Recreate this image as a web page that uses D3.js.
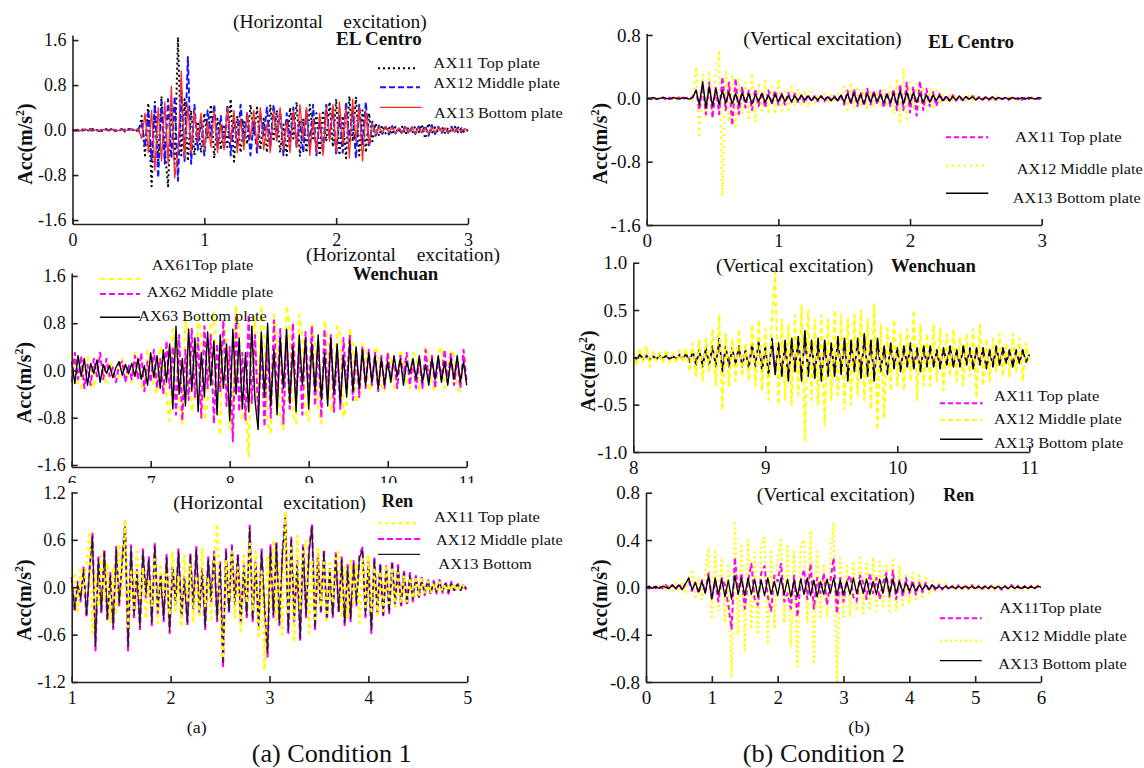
<!DOCTYPE html>
<html><head><meta charset="utf-8">
<script src="https://cdn.jsdelivr.net/npm/d3@7"></script>
<style>
body{margin:0;background:#fff;}
svg{display:block;}
</style></head>
<body><svg id="fig" width="1144" height="768"></svg>
<script>
// ===== Condition 1, horizontal excitation: EL Centro (acceleration, m/s^2) =====
const p1T0 = 0, p1Dt = 0.025;
const p1XDomain = [0, 3];
const p1XTicks = [0, 1, 2, 3];
const p1YTicks = [-1.6, -0.8, 0, 0.8, 1.6];
const p1Title = ['(Horizontal', 'excitation)', 'EL Centro'];
const p1Names = ['AX11 Top plate', 'AX12 Middle plate', 'AX13 Bottom plate'];
const p1Top = [
0.00,0.01,-0.01,0.01,0.00,-0.01,0.02,-0.01,0.01,-0.02,
0.01,0.00,0.02,-0.01,0.01,-0.02,0.01,0.02,-0.02,0.03,
-0.05,0.25,-0.45,0.48,-1.00,0.50,-0.55,0.60,-0.35,-1.00,
0.45,-0.60,1.65,-0.45,0.55,-0.55,0.35,-0.45,0.15,-0.40,
0.30,-0.15,0.45,-0.50,0.20,-0.35,0.10,-0.30,0.55,-0.56,
0.25,-0.40,0.15,-0.25,0.45,-0.10,0.40,-0.35,0.20,-0.40,
0.45,-0.20,0.35,-0.40,0.10,-0.45,0.40,-0.15,0.50,-0.47,
0.20,-0.40,0.45,-0.15,0.30,-0.45,0.35,-0.20,0.50,-0.30,
0.55,-0.45,0.25,-0.50,0.60,-0.20,0.59,-0.45,0.35,-0.40,
0.30,-0.20,0.12,-0.10,0.08,-0.06,0.07,-0.08,0.06,-0.05,
0.06,-0.08,0.05,-0.06,0.07,-0.05,0.10,-0.15,0.12,-0.06,
0.05,-0.04,0.06,-0.05,0.04,-0.05,0.06,-0.04,0.03,-0.05,
0.02];
const p1Mid = [
0.00,-0.01,0.02,-0.01,0.01,0.03,-0.01,0.02,-0.02,0.01,
0.02,-0.01,0.03,-0.02,0.01,0.02,-0.03,0.02,0.01,-0.02,
0.02,0.12,-0.30,0.35,-0.55,0.45,-0.85,0.50,-0.60,0.55,
-0.50,0.60,-0.90,0.70,-0.55,1.30,-0.60,0.45,-0.35,0.20,
-0.45,0.35,-0.10,0.45,-0.30,0.25,-0.35,0.45,-0.45,0.20,
-0.30,0.45,-0.20,0.30,-0.45,0.15,-0.40,0.30,-0.10,0.40,
-0.30,0.45,-0.15,0.35,-0.45,0.30,-0.20,0.40,-0.30,0.15,
-0.40,0.35,-0.30,0.45,-0.45,0.20,-0.40,0.45,-0.15,0.40,
-0.45,0.25,-0.40,0.50,-0.20,0.40,-0.50,0.45,-0.25,0.50,
-0.30,0.15,-0.10,0.08,-0.07,0.06,-0.08,0.07,-0.06,0.05,
-0.07,0.08,-0.06,0.05,-0.07,0.06,-0.05,0.08,-0.10,0.09,
-0.07,0.06,-0.05,0.04,-0.05,0.06,-0.04,0.05,-0.04,0.03,
-0.02];
const p1Bot = [
0.00,0.01,-0.01,0.00,0.01,-0.01,0.01,0.00,-0.01,0.01,
0.00,-0.01,0.01,0.00,-0.01,0.01,-0.01,0.00,0.01,-0.01,
0.01,-0.15,0.30,-0.40,0.35,-0.72,0.40,-0.55,0.50,-0.60,
0.78,-0.85,-0.40,1.05,-0.50,0.45,-0.40,0.35,-0.20,0.30,
-0.35,0.15,-0.30,0.35,-0.40,0.10,-0.35,0.40,-0.20,0.35,
-0.40,0.20,-0.35,0.30,-0.15,0.35,-0.30,0.40,-0.35,0.10,
-0.40,0.35,-0.20,0.40,-0.35,0.15,-0.40,0.35,-0.30,0.45,
-0.15,0.40,-0.45,0.20,-0.40,0.30,-0.45,0.40,-0.20,0.45,
-0.40,0.50,-0.25,0.40,-0.50,0.55,-0.20,0.40,-0.55,0.35,
-0.25,0.12,-0.08,0.06,-0.05,0.06,-0.04,0.05,-0.06,0.04,
-0.05,0.06,-0.04,0.05,-0.06,0.04,-0.05,0.04,-0.06,0.05,
-0.04,0.05,-0.03,0.04,-0.05,0.03,-0.04,0.03,-0.02,0.03,
-0.02];

// ===== Condition 1, horizontal excitation: Wenchuan =====
const p2T0 = 6, p2Dt = 0.04;
const p2XDomain = [6, 11];
const p2XTicks = [6, 7, 8, 9, 10, 11];
const p2YTicks = [-1.6, -0.8, 0, 0.8, 1.6];
const p2Title = ['(Horizontal', 'excitation)', 'Wenchuan'];
const p2Names = ['AX61Top plate', 'AX62 Middle plate', 'AX63 Bottom plate'];
const p2Top = [
0.30,0.10,-0.25,-0.30,0.20,0.25,-0.15,-0.30,0.15,0.25,
-0.10,-0.20,0.15,0.05,-0.15,-0.10,0.20,0.10,-0.15,-0.20,
0.30,0.15,-0.25,-0.35,0.35,0.20,-0.30,-0.40,0.40,0.25,
-0.50,-0.85,0.70,0.45,-0.60,-0.90,0.85,0.50,-0.70,-0.40,
0.90,0.60,-0.85,-0.55,0.75,1.00,-0.60,-1.10,0.80,0.45,
-1.00,-0.60,1.10,0.70,-0.85,-0.60,-1.45,0.55,0.90,-0.70,
1.10,0.60,-0.90,-1.05,0.95,0.50,-0.80,-1.00,1.10,0.75,
-0.75,-0.90,0.95,0.55,-0.70,-0.85,0.80,0.45,-0.65,-0.90,
0.85,0.50,-0.70,-0.55,0.75,0.60,-0.80,-0.60,0.70,0.40,
-0.55,-0.40,0.45,0.30,-0.35,-0.25,0.40,0.30,-0.30,-0.35,
0.30,0.20,-0.30,-0.25,0.35,0.15,-0.20,-0.30,0.30,0.25,
-0.35,-0.20,0.40,0.25,-0.25,-0.35,0.30,0.40,-0.30,-0.20,
0.35,0.25,-0.30,-0.35,0.25,0.15];
const p2Mid = [
-0.20,0.30,-0.15,0.25,-0.30,0.10,-0.25,0.20,-0.10,0.30,
-0.15,0.20,-0.10,0.05,-0.20,0.10,0.15,-0.20,0.10,-0.15,
0.25,-0.15,0.30,-0.35,0.15,-0.20,0.35,-0.30,0.20,-0.40,
0.50,-0.30,0.40,-0.75,0.60,-0.85,0.35,-0.50,0.70,-0.45,
0.55,-0.80,0.75,-0.30,0.60,-0.90,0.45,-0.35,0.85,-0.60,
0.40,-1.20,0.90,-0.70,0.30,-0.85,0.95,-0.55,0.60,-0.75,
0.50,-0.95,0.40,-0.80,0.85,-0.45,0.70,-0.90,0.55,-0.65,
0.80,-0.50,0.35,-0.75,0.65,-0.40,0.75,-0.60,0.45,-0.80,
0.70,-0.40,0.60,-0.70,0.35,-0.65,0.55,-0.30,0.60,-0.50,
0.35,-0.45,0.40,-0.30,0.35,-0.25,0.30,-0.35,0.25,-0.30,
0.30,-0.15,0.20,-0.30,0.25,-0.10,0.30,-0.25,0.15,-0.30,
0.20,-0.30,0.35,-0.15,0.25,-0.30,0.20,-0.15,0.35,-0.20,
0.30,-0.25,0.15,-0.30,0.35,-0.20];
const p2Bot = [
0.15,-0.22,0.25,-0.10,0.20,-0.25,0.12,-0.05,0.18,-0.20,
0.10,-0.05,0.08,-0.12,0.05,0.15,-0.08,0.10,-0.05,0.12,
-0.10,0.20,-0.15,0.08,-0.25,0.30,-0.12,0.25,-0.30,0.35,
-0.20,0.45,-0.65,0.75,-0.40,0.20,-0.60,0.70,-0.35,0.55,
-0.70,0.30,-0.45,0.65,-0.25,0.50,-0.75,0.60,-0.30,0.45,
-0.85,0.70,-0.40,0.55,-0.65,0.30,-0.70,0.75,-0.50,-1.00,
0.65,-0.45,0.80,-0.60,0.35,-0.75,0.55,-0.30,0.70,-0.55,
0.40,-0.70,0.60,-0.25,0.55,-0.65,0.45,-0.35,0.60,-0.50,
0.30,-0.60,0.55,-0.40,0.45,-0.55,0.25,-0.45,0.50,-0.35,
0.40,-0.30,0.35,-0.25,0.30,-0.20,0.25,-0.30,0.20,-0.25,
0.15,-0.20,0.25,-0.10,0.20,-0.25,0.15,-0.05,0.20,-0.15,
0.25,-0.20,0.10,-0.25,0.20,-0.15,0.25,-0.20,0.15,-0.25,
0.20,-0.15,0.25,-0.20,0.15,-0.25];

// ===== Condition 1, horizontal excitation: Ren =====
const p3T0 = 1, p3Dt = 0.03;
const p3XDomain = [1, 5];
const p3XTicks = [1, 2, 3, 4, 5];
const p3YTicks = [-1.2, -0.6, 0, 0.6, 1.2];
const p3Title = ['(Horizontal', 'excitation)', 'Ren'];
const p3Names = ['AX11 Top plate', 'AX12 Middle plate', 'AX13 Bottom'];
const p3Top = [
-0.05,0.15,-0.30,0.25,-0.10,0.30,0.70,-0.58,0.15,-0.25,
0.40,-0.15,0.30,-0.45,0.25,-0.35,0.55,-0.10,0.85,-0.50,
0.20,-0.30,0.45,-0.15,0.25,-0.40,0.10,-0.25,0.35,-0.45,
0.30,-0.10,0.20,-0.35,0.45,-0.30,0.15,-0.50,0.40,-0.20,
0.30,-0.45,0.15,-0.35,0.50,-0.25,0.10,-0.40,0.30,0.80,
-0.30,-0.90,0.35,-0.15,0.45,-0.40,0.25,-0.55,0.40,-0.20,
0.55,-0.30,0.45,-0.65,0.20,-1.05,0.40,-0.25,0.60,-0.45,
0.30,-0.60,0.96,-0.35,0.50,-0.70,0.65,-0.30,0.45,0.60,
-0.58,0.35,-0.40,0.50,-0.25,0.35,-0.45,0.30,-0.20,0.40,
0.45,-0.35,0.25,-0.40,0.35,-0.20,0.30,-0.45,0.35,-0.25,
0.40,-0.30,0.25,-0.35,0.20,-0.30,0.28,-0.20,0.22,-0.25,
0.18,-0.20,0.15,-0.18,0.12,-0.14,0.10,-0.12,0.10,-0.08,
0.07,-0.08,0.06,-0.05,0.06,-0.05,0.04,-0.05,0.04,-0.04,0.03,-0.03,0.02,-0.02];
const p3Mid = [
0.13,-0.31,0.07,-0.18,0.25,-0.38,0.23,0.68,-0.80,0.38,
-0.33,0.48,-0.43,0.18,-0.53,0.51,-0.23,0.33,0.83,-0.80,
0.53,-0.38,0.23,-0.53,0.48,-0.13,0.38,-0.48,0.55,-0.33,
0.18,-0.43,0.41,-0.58,0.28,-0.23,0.48,-0.38,0.13,-0.48,
0.43,-0.28,0.51,-0.33,0.23,-0.53,0.38,-0.18,0.45,-0.43,
0.33,-1.00,0.48,-0.33,0.53,-0.23,0.43,-0.48,0.28,-0.38,
0.78,-0.43,0.33,-0.53,0.48,-0.28,-0.88,0.53,-0.38,0.58,
-0.48,0.43,0.91,-0.58,0.63,-0.43,0.33,-0.68,0.53,-0.38,
0.48,0.80,-0.53,0.43,-0.33,0.48,-0.43,0.23,-0.38,0.43,
-0.33,0.38,-0.48,0.28,-0.43,0.33,-0.23,0.41,0.50,-0.38,
0.33,-0.58,0.38,-0.33,0.31,-0.38,0.28,-0.33,0.33,-0.23,
0.28,-0.25,0.21,-0.23,0.18,-0.18,0.14,-0.14,0.12,-0.10,
0.10,-0.09,0.08,-0.08,0.09,-0.07,0.07,-0.08,0.07,-0.06,0.06,-0.05,0.04,-0.03];
const p3Bot = [
0.10,-0.28,0.05,-0.15,0.22,-0.35,0.20,0.65,-0.75,0.35,
-0.30,0.45,-0.40,0.15,-0.50,0.48,-0.20,0.30,0.80,-0.75,
0.50,-0.35,0.20,-0.50,0.45,-0.10,0.35,-0.45,0.52,-0.30,
0.15,-0.40,0.38,-0.55,0.25,-0.20,0.45,-0.35,0.10,-0.45,
0.40,-0.25,0.48,-0.30,0.20,-0.50,0.35,-0.15,0.42,-0.40,
0.30,-0.95,0.45,-0.30,0.50,-0.20,0.40,-0.45,0.25,-0.35,
0.75,-0.40,0.30,-0.50,0.45,-0.25,-0.83,0.50,-0.35,0.55,
-0.45,0.40,0.88,-0.55,0.60,-0.40,0.30,-0.65,0.50,-0.35,
0.45,0.77,-0.50,0.40,-0.30,0.45,-0.40,0.20,-0.35,0.40,
-0.30,0.35,-0.45,0.25,-0.40,0.30,-0.20,0.38,0.47,-0.35,
0.30,-0.54,0.35,-0.30,0.28,-0.35,0.25,-0.30,0.30,-0.20,
0.25,-0.22,0.18,-0.20,0.15,-0.15,0.12,-0.12,0.10,-0.08,
0.08,-0.07,0.06,-0.06,0.07,-0.05,0.05,-0.06,0.05,-0.04,0.04,-0.04,0.03,-0.02];

// ===== Condition 2, vertical excitation: EL Centro =====
const p4T0 = 0, p4Dt = 0.025;
const p4XDomain = [0, 3];
const p4XTicks = [0, 1, 2, 3];
const p4YTicks = [-1.6, -0.8, 0, 0.8];
const p4Title = ['(Vertical excitation)', 'EL Centro'];
const p4Names = ['AX11 Top plate', 'AX12 Middle plate', 'AX13 Bottom plate'];
const p4Top = [
0.00,-0.01,0.01,-0.01,0.00,0.01,-0.02,0.01,-0.01,0.00,0.01,-0.01,0.01,-0.01,0.02,
0.10,-0.15,0.15,-0.20,0.20,-0.25,0.15,-0.20,0.27,-0.15,0.20,-0.34,0.25,-0.20,0.15,
-0.12,0.10,-0.15,0.12,-0.10,0.08,-0.12,0.10,-0.08,0.10,-0.08,0.06,-0.08,0.07,-0.05,
0.06,-0.05,0.04,-0.06,0.05,-0.04,0.03,-0.04,0.03,-0.04,0.03,-0.02,0.03,-0.04,0.05,
-0.08,0.10,-0.08,0.12,-0.10,0.08,-0.10,0.12,-0.08,0.10,-0.08,0.10,-0.12,0.08,-0.10,
0.12,-0.15,0.18,-0.15,0.20,-0.18,0.15,-0.22,0.22,-0.15,0.12,-0.10,0.08,-0.10,0.06,
-0.05,0.04,-0.03,0.04,-0.03,0.02,-0.03,0.02,-0.02,0.03,-0.02,0.02,-0.01,0.02,-0.02,
0.01,-0.02,0.02,-0.01,0.01,-0.02,0.01,-0.01,0.01,-0.02,0.01,-0.01,0.01,0.00,-0.01,0.00];
const p4Mid = [
0.00,0.01,-0.01,0.02,-0.02,0.01,0.00,-0.01,0.02,-0.03,0.01,0.02,-0.01,0.01,-0.02,
0.40,-0.50,0.30,-0.25,0.35,-0.20,0.30,0.61,-1.24,0.35,-0.30,0.30,-0.35,0.25,-0.20,
0.20,-0.25,0.32,-0.30,0.20,-0.15,0.25,-0.20,0.15,-0.20,0.25,-0.15,0.12,-0.18,0.15,
-0.10,0.12,-0.08,0.10,-0.12,0.08,-0.06,0.05,-0.04,0.05,-0.06,0.04,-0.05,0.06,-0.05,
0.15,-0.18,0.20,-0.12,0.15,-0.10,0.12,-0.15,0.10,-0.12,0.08,-0.10,0.12,-0.10,0.15,
-0.20,0.25,-0.33,0.38,-0.25,0.20,-0.15,0.18,-0.12,0.15,-0.10,0.12,-0.15,0.10,-0.08,
0.06,-0.05,0.04,-0.03,0.04,-0.03,0.02,-0.03,0.04,-0.02,0.03,-0.02,0.02,-0.03,0.02,
-0.02,0.03,-0.02,0.02,-0.01,0.02,-0.02,0.01,-0.02,0.02,-0.01,0.01,-0.01,0.02,-0.01,0.00];
const p4Bot = [
0.00,0.00,0.01,-0.01,0.00,0.01,0.00,-0.01,0.01,0.00,-0.01,0.01,0.00,-0.01,0.01,
0.10,-0.08,0.21,-0.12,0.15,-0.10,0.12,-0.08,0.10,-0.06,0.08,-0.07,0.06,-0.08,0.07,
-0.05,0.06,-0.07,0.05,-0.04,0.06,-0.05,0.04,-0.06,0.05,-0.04,0.05,-0.04,0.03,-0.04,
0.03,-0.03,0.04,-0.02,0.03,-0.03,0.02,-0.02,0.03,-0.02,0.02,-0.03,0.02,-0.03,0.04,
-0.05,0.06,-0.05,0.07,-0.06,0.05,-0.07,0.06,-0.05,0.06,-0.04,0.05,-0.06,0.05,-0.06,
0.07,-0.08,0.10,-0.07,0.08,-0.06,0.07,-0.05,0.06,-0.05,0.04,-0.05,0.04,-0.03,0.04,
-0.03,0.02,-0.03,0.02,-0.02,0.03,-0.02,0.02,-0.01,0.02,-0.02,0.01,-0.02,0.01,-0.01,
0.02,-0.01,0.01,-0.01,0.01,-0.01,0.01,0.00,-0.01,0.01,-0.01,0.01,0.00,-0.01,0.01,0.00];

// ===== Condition 2, vertical excitation: Wenchuan =====
const p5T0 = 8, p5Dt = 0.025;
const p5XDomain = [8, 11];
const p5XTicks = [8, 9, 10, 11];
const p5YTicks = [-1.0, -0.5, 0, 0.5, 1.0];
const p5Title = ['(Vertical excitation)', 'Wenchuan'];
const p5Names = ['AX11 Top plate', 'AX12 Middle plate', 'AX13 Bottom plate'];
const p5Top = [
0.01,-0.01,0.02,-0.01,0.01,-0.02,0.01,-0.01,0.01,-0.01,0.01,-0.01,0.01,-0.01,0.02,
-0.01,0.03,-0.04,0.05,-0.06,0.06,-0.08,0.08,-0.06,0.10,-0.08,0.16,-0.12,0.10,-0.08,
0.08,-0.06,0.10,-0.08,0.06,-0.10,0.12,-0.08,0.15,-0.12,0.10,-0.16,0.16,-0.15,0.12,
-0.16,0.15,-0.20,0.16,-0.12,0.18,-0.20,0.22,-0.16,0.15,-0.18,0.16,-0.20,0.15,-0.16,
0.12,-0.16,0.18,-0.15,0.16,-0.20,0.15,-0.12,0.16,-0.18,0.20,-0.16,0.15,-0.20,0.16,
-0.12,0.10,-0.15,0.12,-0.10,0.08,-0.12,0.10,-0.08,0.12,-0.10,0.08,-0.12,0.10,-0.08,
0.10,-0.08,0.06,-0.10,0.08,-0.06,0.10,-0.08,0.06,-0.08,0.10,-0.06,0.08,-0.10,0.08,
-0.06,0.08,-0.10,0.06,-0.08,0.10,-0.06,0.08,-0.05,0.06,-0.08,0.06,-0.05,0.06,-0.04,0.02];
const p5Mid = [
0.05,-0.08,0.10,-0.05,0.12,-0.10,0.06,-0.04,0.05,-0.06,0.08,-0.05,0.04,-0.06,0.08,
-0.05,0.10,-0.15,0.15,-0.20,0.18,-0.25,0.20,-0.15,0.30,-0.30,0.45,-0.56,0.25,-0.30,
0.20,-0.25,0.30,-0.20,0.15,-0.25,0.35,-0.30,0.40,-0.35,0.30,-0.45,0.40,0.90,-0.50,
0.40,-0.45,0.35,-0.50,0.45,-0.40,0.55,-0.89,0.50,-0.45,0.40,-0.50,0.45,-0.72,0.40,
-0.45,0.50,-0.40,0.45,-0.55,0.40,-0.50,0.45,-0.40,0.50,-0.45,0.40,-0.55,0.57,-0.77,
0.35,-0.65,0.30,-0.35,0.40,-0.30,0.25,-0.35,0.30,-0.25,0.50,-0.45,0.35,-0.30,0.25,
-0.30,0.35,-0.25,0.30,-0.35,0.25,-0.20,0.30,-0.25,0.20,-0.30,0.25,-0.20,0.30,-0.43,
0.35,-0.30,0.20,-0.25,0.20,-0.15,0.25,-0.20,0.15,-0.20,0.25,-0.15,0.20,-0.25,0.15,-0.05];
const p5Bot = [
0.01,-0.02,0.03,-0.02,0.02,-0.03,0.01,-0.02,0.02,-0.01,0.02,-0.02,0.01,-0.02,0.03,
-0.02,0.04,-0.05,0.06,-0.08,0.08,-0.10,0.10,-0.08,0.12,-0.10,0.20,-0.15,0.12,-0.10,
0.10,-0.08,0.12,-0.10,0.08,-0.12,0.15,-0.10,0.18,-0.15,0.12,-0.20,0.20,-0.18,0.15,
-0.20,0.18,-0.25,0.20,-0.15,0.22,-0.25,0.28,-0.20,0.18,-0.22,0.20,-0.25,0.18,-0.20,
0.15,-0.20,0.22,-0.18,0.20,-0.25,0.18,-0.15,0.20,-0.22,0.25,-0.20,0.18,-0.25,0.20,
-0.15,0.12,-0.18,0.15,-0.12,0.10,-0.15,0.12,-0.10,0.15,-0.12,0.10,-0.15,0.12,-0.10,
0.12,-0.10,0.08,-0.12,0.10,-0.08,0.12,-0.10,0.08,-0.10,0.12,-0.08,0.10,-0.12,0.10,
-0.08,0.10,-0.12,0.08,-0.10,0.12,-0.08,0.10,-0.06,0.08,-0.10,0.08,-0.06,0.08,-0.05,0.03];

// ===== Condition 2, vertical excitation: Ren =====
const p6T0 = 0, p6Dt = 0.05;
const p6XDomain = [0, 6];
const p6XTicks = [0, 1, 2, 3, 4, 5, 6];
const p6YTicks = [-0.8, -0.4, 0, 0.4, 0.8];
const p6Title = ['(Vertical excitation)', 'Ren'];
const p6Names = ['AX11Top plate', 'AX12 Middle plate', 'AX13 Bottom plate'];
const p6Top = [
0.00,-0.01,0.01,-0.01,0.01,-0.01,0.02,-0.01,0.02,-0.02,0.03,-0.02,0.03,0.05,-0.03,
0.04,-0.05,0.06,-0.04,0.12,-0.10,0.05,-0.12,0.08,0.02,-0.15,-0.35,0.25,-0.05,0.12,
-0.18,0.05,0.20,-0.10,-0.15,0.12,0.18,-0.08,-0.20,0.10,0.05,0.20,-0.12,-0.05,-0.18,
0.10,-0.25,0.05,0.15,-0.10,0.20,-0.18,0.08,-0.05,0.12,-0.15,0.05,0.25,-0.22,0.08,
-0.12,0.05,0.10,-0.08,-0.12,0.10,0.04,-0.10,0.12,-0.05,0.08,-0.10,0.04,0.12,-0.08,
0.14,-0.10,0.06,-0.08,0.08,-0.05,0.06,-0.06,0.04,-0.04,0.04,-0.03,0.03,-0.03,0.02,
-0.02,0.02,-0.02,0.01,-0.02,0.02,-0.01,0.02,-0.01,0.02,-0.02,0.01,-0.02,0.01,-0.01,
0.02,-0.01,0.01,-0.02,0.01,-0.01,0.02,-0.01,0.01,-0.02,0.01,-0.01,0.01,-0.01,0.01,0.00];
const p6Mid = [
0.00,0.01,-0.02,0.02,-0.01,0.03,-0.02,0.03,-0.03,0.04,-0.03,0.05,-0.04,0.08,0.15,
-0.10,0.08,-0.10,0.12,0.33,-0.25,0.30,-0.20,0.25,-0.30,0.20,-0.76,0.54,-0.40,0.35,
-0.53,0.40,-0.35,0.30,-0.40,0.35,0.42,-0.48,0.30,-0.35,0.25,0.40,-0.30,0.35,-0.50,
0.30,-0.67,0.35,0.40,-0.30,0.48,-0.65,0.30,-0.25,0.20,-0.25,0.25,0.55,-0.80,0.25,
-0.25,0.20,-0.25,0.22,-0.20,0.25,-0.22,0.20,-0.18,0.25,-0.20,0.22,-0.18,0.20,-0.22,
0.25,-0.20,0.18,-0.15,0.12,-0.14,0.12,-0.10,0.12,-0.08,0.10,-0.06,0.05,-0.04,0.05,
-0.03,0.03,-0.02,0.03,-0.02,0.02,-0.03,0.02,-0.02,0.03,-0.02,0.02,-0.03,0.02,-0.02,
0.02,-0.02,0.03,-0.02,0.02,-0.02,0.03,-0.02,0.02,-0.03,0.02,-0.02,0.02,-0.01,0.02,-0.01];
const p6Bot = [
0.00,0.01,-0.01,0.01,-0.01,0.01,0.00,-0.01,0.02,-0.01,0.02,-0.02,0.03,0.08,-0.02,
0.04,-0.04,0.05,-0.05,0.10,-0.10,0.08,-0.06,0.07,-0.08,0.06,-0.10,0.10,-0.06,0.08,
-0.07,0.08,-0.06,0.07,-0.08,0.06,-0.07,0.08,-0.06,0.05,-0.07,0.08,-0.06,0.07,-0.08,
0.06,-0.08,0.07,-0.06,0.08,-0.07,0.06,-0.08,0.05,-0.06,0.07,-0.05,0.08,-0.07,0.06,
-0.06,0.05,-0.06,0.08,-0.05,0.06,-0.05,0.07,-0.06,0.05,-0.06,0.07,-0.05,0.09,-0.06,
0.07,-0.05,0.05,-0.04,0.04,-0.03,0.03,-0.03,0.02,-0.02,0.02,-0.02,0.02,-0.01,0.01,
-0.01,0.01,-0.01,0.01,-0.01,0.01,-0.01,0.01,-0.01,0.01,-0.01,0.01,-0.01,0.01,-0.01,
0.01,-0.01,0.01,-0.01,0.01,-0.01,0.01,-0.01,0.01,-0.01,0.01,-0.01,0.01,-0.01,0.01,0.00];

const captionsSmall = ['(a)', '(b)'];
const captionsBig = ['(a) Condition 1', '(b) Condition 2'];
const yAxisTitle = 'Acc(m/s';

// ---------- drawing ----------
const FONT = '"Liberation Serif","Times New Roman",Times,serif';
const svg = d3.select('#fig');
svg.append('rect').attr('width', 1144).attr('height', 768).attr('fill', '#fff');

const BLACK = '#000', BLUE = '#1414ff', RED = '#ff2a2a', YEL = '#ffff00', MAG = '#ff00ff';

const panels = [
  { data: [p1Top, p1Mid, p1Bot], t0: p1T0, dt: p1Dt, xDomain: p1XDomain, xTicks: p1XTicks, yTicks: p1YTicks,
    names: p1Names, title: p1Title,
    bg: null, xRange: [72.5, 468], yDomain: [-1.67, 1.69], yRange: [224, 35], tick: 18,
    titlePos: [[233, 27.5, 90, 18, false], [343.3, 27.5, 83.4, 18, false], [336, 45.3, 85.7, 19, true]],
    legText: [[433.3, 67.5, 106.7], [433.3, 87.5, 126.7], [434, 117.5, 128.7]],
    legLine: [[378, 417, 68.3], [380, 420, 87.3], [380, 421.7, 107.3]],
    yLab: [25, 144],
    styles: [{ c: BLACK, d: '2,3', w: 2 }, { c: BLUE, d: '6,3', w: 2 }, { c: RED, d: null, w: 1.3 }],
    order: [0, 1, 2] },
  { data: [p2Top, p2Mid, p2Bot], t0: p2T0, dt: p2Dt, xDomain: p2XDomain, xTicks: p2XTicks, yTicks: p2YTicks,
    names: p2Names, title: p2Title,
    bg: [0, 247, 576, 236], xRange: [71.7, 466.7], yDomain: [-1.634, 1.65], yRange: [467, 273], tick: 18,
    titlePos: [[306, 260.5, 90, 18, false], [416.7, 260.5, 83.3, 18, false], [352.7, 279.5, 85.6, 19, true]],
    legText: [[151.7, 270.3, 101.6], [146.7, 297, 126.6], [138.3, 321.3, 128.4]],
    legLine: [[100, 140, 279], [100, 140, 294], [100, 140, 317.3]],
    yLab: [24.5, 382.5],
    styles: [{ c: YEL, d: '5,4', w: 2.2 }, { c: MAG, d: '6,3', w: 2 }, { c: BLACK, d: null, w: 1.4 }],
    order: [0, 1, 2] },
  { data: [p3Top, p3Mid, p3Bot], t0: p3T0, dt: p3Dt, xDomain: p3XDomain, xTicks: p3XTicks, yTicks: p3YTicks,
    names: p3Names, title: p3Title,
    bg: [0, 483, 576, 285], xRange: [71.7, 467.3], yDomain: [-1.2, 1.21], yRange: [682, 491.7], tick: 18,
    titlePos: [[173.3, 509, 90, 18, false], [283.3, 509, 82.7, 18, false], [381.7, 506.5, 31.6, 19, true]],
    legText: [[434, 522, 106], [436, 545.3, 126.7], [438.3, 569.3, 93.4]],
    legLine: [[378, 420, 523.3], [378, 420, 539], [378, 420, 554.3]],
    yLab: [24, 600],
    styles: [{ c: YEL, d: '3,4', w: 2.6 }, { c: MAG, d: '6,3', w: 2.2 }, { c: '#222', d: null, w: 1.3 }],
    order: [1, 2, 0] },
  { data: [p4Top, p4Mid, p4Bot], t0: p4T0, dt: p4Dt, xDomain: p4XDomain, xTicks: p4XTicks, yTicks: p4YTicks,
    names: p4Names, title: p4Title,
    bg: null, xRange: [646.7, 1041.7], yDomain: [-1.6, 0.82], yRange: [225, 33.4], tick: 19,
    titlePos: [[743.3, 44.8, 158.4, 18, false], [928.3, 48, 85.7, 19, true]],
    legText: [[1015, 142, 106.7], [1016.7, 173.6, 126], [1012.7, 203, 128]],
    legLine: [[946, 988.3, 137.3], [946, 988.3, 165.7], [946, 988.3, 193.3]],
    yLab: [600, 143.5],
    styles: [{ c: MAG, d: '5,3', w: 2 }, { c: YEL, d: '2,4', w: 2.2 }, { c: BLACK, d: null, w: 1.4 }],
    order: [1, 0, 2] },
  { data: [p5Top, p5Mid, p5Bot], t0: p5T0, dt: p5Dt, xDomain: p5XDomain, xTicks: p5XTicks, yTicks: p5YTicks,
    names: p5Names, title: p5Title,
    bg: [576, 247, 568, 229], xRange: [633.3, 1029.3], yDomain: [-1, 1], yRange: [452, 262.7], tick: 19,
    titlePos: [[716, 272, 157.3, 18, false], [891, 272.3, 85, 19, true]],
    legText: [[994, 401, 105.3], [994, 424.3, 127.7], [994, 447.6, 129.3]],
    legLine: [[940, 982.7, 403.3], [940, 982.7, 420], [940, 982.7, 439.3]],
    yLab: [588.5, 371],
    styles: [{ c: MAG, d: '5,3', w: 2 }, { c: YEL, d: '5,3', w: 2 }, { c: BLACK, d: null, w: 1.6 }],
    order: [0, 2, 1] },
  { data: [p6Top, p6Mid, p6Bot], t0: p6T0, dt: p6Dt, xDomain: p6XDomain, xTicks: p6XTicks, yTicks: p6YTicks,
    names: p6Names, title: p6Title,
    bg: [576, 476, 568, 292], xRange: [646, 1041], yDomain: [-0.8, 0.8], yRange: [682, 492.7], tick: 19,
    titlePos: [[756.7, 500.5, 158.3, 18, false], [943.3, 500.5, 31, 19, true]],
    legText: [[999.3, 612.6, 102.4], [999.3, 641.3, 127.4], [998.3, 669.3, 128.4]],
    legLine: [[940, 981.7, 618.3], [940, 981.7, 640.7], [940, 981.7, 660.7]],
    yLab: [600, 600],
    styles: [{ c: MAG, d: '5,3', w: 2 }, { c: YEL, d: '2,3', w: 2.2 }, { c: BLACK, d: null, w: 1.3 }],
    order: [1, 0, 2] }
];

function addText(g, x, y, s, size, bold, len) {
  const t = g.append('text').attr('x', x).attr('y', y).text(s)
    .attr('font-family', FONT).attr('font-size', size).attr('fill', '#111');
  if (bold) t.attr('font-weight', 'bold');
  if (len) t.attr('textLength', len).attr('lengthAdjust', 'spacingAndGlyphs');
  return t;
}

panels.forEach(p => {
  const g = svg.append('g');
  if (p.bg) g.append('rect').attr('x', p.bg[0]).attr('y', p.bg[1])
    .attr('width', p.bg[2]).attr('height', p.bg[3]).attr('fill', '#fff');

  const x = d3.scaleLinear().domain(p.xDomain).range(p.xRange);
  const y = d3.scaleLinear().domain(p.yDomain).range(p.yRange);

  // acceleration records
  p.order.forEach(k => {
    const st = p.styles[k];
    const line = d3.line().x((d, i) => x(p.t0 + i * p.dt)).y(d => y(d));
    g.append('path').attr('d', line(p.data[k]))
      .attr('fill', 'none').attr('stroke', st.c).attr('stroke-width', st.w)
      .attr('stroke-dasharray', st.d).attr('stroke-linejoin', 'round');
  });

  // axes (ticks point into the plot)
  const xAxis = d3.axisBottom(x).tickValues(p.xTicks).tickFormat(d => String(d))
    .tickSizeInner(-6).tickSizeOuter(0).tickPadding(p.tick === 18 ? 9.7 : 9);
  const yAxis = d3.axisLeft(y).tickValues(p.yTicks).tickFormat(d => d.toFixed(1))
    .tickSizeInner(-6).tickSizeOuter(0).tickPadding(6);
  [[xAxis, `translate(0,${p.yRange[0]})`], [yAxis, `translate(${p.xRange[0]},0)`]].forEach(([ax, tr]) => {
    const a = g.append('g').attr('transform', tr).call(ax);
    a.attr('font-family', FONT).attr('font-size', p.tick);
    a.select('.domain').attr('stroke', '#222').attr('stroke-width', 1.6);
    a.selectAll('.tick line').attr('stroke', '#222').attr('stroke-width', 1.6);
    a.selectAll('.tick text').attr('fill', '#111');
  });

  // y-axis title
  const yl = g.append('text')
    .attr('transform', `translate(${p.yLab[0] + 6.5},${p.yLab[1]}) rotate(-90)`)
    .attr('text-anchor', 'middle').attr('font-family', FONT).attr('font-size', 20)
    .attr('font-weight', 'bold').attr('fill', '#111');
  yl.append('tspan').text(yAxisTitle);
  yl.append('tspan').text('2').attr('font-size', 12).attr('dy', -8);
  yl.append('tspan').text(')').attr('dy', 8);

  // panel titles
  p.title.forEach((s, i) => {
    const tp = p.titlePos[i];
    addText(g, tp[0], tp[1], s, tp[3], tp[4], tp[2]);
  });

  // legend
  p.names.forEach((s, i) => {
    const st = p.styles[i], ll = p.legLine[i], lt = p.legText[i];
    g.append('line').attr('x1', ll[0]).attr('x2', ll[1]).attr('y1', ll[2]).attr('y2', ll[2])
      .attr('stroke', st.c).attr('stroke-width', st.w).attr('stroke-dasharray', st.d);
    addText(g, lt[0], lt[1], s, 15.5, false, lt[2]);
  });
});

// sub-figure captions
const capG = svg.append('g');
addText(capG, 186.7, 732.5, captionsSmall[0], 17, false, 20);
addText(capG, 848.3, 732.5, captionsSmall[1], 17, false, 21.7);
addText(capG, 251.7, 762, captionsBig[0], 25, false, 160);
addText(capG, 742.7, 762, captionsBig[1], 25, false, 162.3);
</script>
</body></html>
